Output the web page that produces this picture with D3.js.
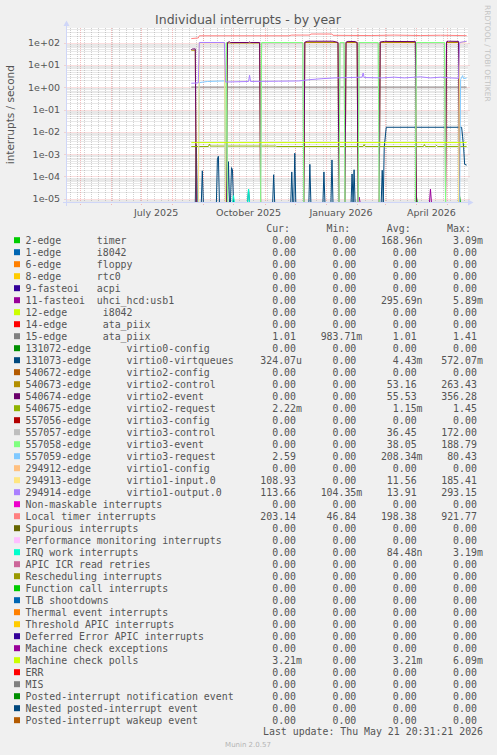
<!DOCTYPE html>
<html><head><meta charset="utf-8">
<script src="https://cdn.jsdelivr.net/npm/d3@7"></script>
<style>
html,body{margin:0;padding:0;background:#F0F0F0;}
svg{display:block;}
</style></head><body>
<svg id="chart" width="497" height="755"></svg>
<script>
// ---------------- DATA ----------------
const chartTitle = "Individual interrupts - by year";
const yAxisLabel = "interrupts / second";
const lastUpdate = "Last update: Thu May 21 20:31:21 2026";
const endTimeStr = "2026-05-21 20:31:21";

const yTickValues = [1e2, 1e1, 1e0, 1e-1, 1e-2, 1e-3, 1e-4, 1e-5];
const yTickLabels = ["1e+02","1e+01","1e+00","1e-01","1e-02","1e-03","1e-04","1e-05"];
const xTickDates = ["2025-07-16","2025-10-16","2026-01-16","2026-04-16"];
const xTickLabels = ["July 2025","October 2025","January 2026","April 2026"];

const legendNames = [
 "2-edge      timer","1-edge      i8042","6-edge      floppy","8-edge      rtc0",
 "9-fasteoi   acpi","11-fasteoi  uhci_hcd:usb1","12-edge      i8042","14-edge      ata_piix",
 "15-edge      ata_piix","131072-edge      virtio0-config","131073-edge      virtio0-virtqueues",
 "540672-edge      virtio2-config","540673-edge      virtio2-control","540674-edge      virtio2-event",
 "540675-edge      virtio2-request","557056-edge      virtio3-config","557057-edge      virtio3-control",
 "557058-edge      virtio3-event","557059-edge      virtio3-request","294912-edge      virtio1-config",
 "294913-edge      virtio1-input.0","294914-edge      virtio1-output.0","Non-maskable interrupts",
 "Local timer interrupts","Spurious interrupts","Performance monitoring interrupts","IRQ work interrupts",
 "APIC ICR read retries","Rescheduling interrupts","Function call interrupts","TLB shootdowns",
 "Thermal event interrupts","Threshold APIC interrupts","Deferred Error APIC interrupts",
 "Machine check exceptions","Machine check polls","ERR","MIS","Posted-interrupt notification event",
 "Nested posted-interrupt event","Posted-interrupt wakeup event"
];
const legendColors = [
 "#00CC00","#0066B3","#FF8000","#FFCC00","#330099","#990099","#CCFF00","#FF0000","#808080",
 "#008F00","#00487D","#B35A00","#B38F00","#6B006B","#8FB300","#B30000","#BEBEBE","#80FF80",
 "#80C9FF","#FFC080","#FFE680","#AA80FF","#EE00CC","#FF8080","#666600","#FFBFFF","#00FFCC",
 "#CC6699","#999900","#00CC00","#0066B3","#FF8000","#FFCC00","#330099","#990099","#CCFF00",
 "#FF0000","#808080","#008F00","#00487D","#B35A00"
];
const curValues = ["0.00","0.00","0.00","0.00","0.00","0.00","0.00","0.00","1.01","0.00","324.07u",
 "0.00","0.00","0.00","2.22m","0.00","0.00","0.00","2.59","0.00","108.93","113.66","0.00","203.14",
 "0.00","0.00","0.00","0.00","0.00","0.00","0.00","0.00","0.00","0.00","0.00","3.21m","0.00","0.00",
 "0.00","0.00","0.00"];
const minValues = ["0.00","0.00","0.00","0.00","0.00","0.00","0.00","0.00","983.71m","0.00","0.00",
 "0.00","0.00","0.00","0.00","0.00","0.00","0.00","0.00","0.00","0.00","104.35m","0.00","46.84",
 "0.00","0.00","0.00","0.00","0.00","0.00","0.00","0.00","0.00","0.00","0.00","0.00","0.00","0.00",
 "0.00","0.00","0.00"];
const avgValues = ["168.96n","0.00","0.00","0.00","0.00","295.69n","0.00","0.00","1.01","0.00","4.43m",
 "0.00","53.16","55.53","1.15m","0.00","36.45","38.05","208.34m","0.00","11.56","13.91","0.00","198.38",
 "0.00","0.00","84.48n","0.00","0.00","0.00","0.00","0.00","0.00","0.00","0.00","3.21m","0.00","0.00",
 "0.00","0.00","0.00"];
const maxValues = ["3.09m","0.00","0.00","0.00","0.00","5.89m","0.00","0.00","1.41","0.00","572.07m",
 "0.00","263.43","356.28","1.45","0.00","172.00","188.79","80.43","0.00","185.41","293.15","0.00","921.77",
 "0.00","0.00","3.19m","0.00","0.00","0.00","0.00","0.00","0.00","0.00","0.00","6.09m","0.00","0.00",
 "0.00","0.00","0.00"];

// series values: [date, interrupts/second]
const zeroSeries = [["2025-08-20",0],["2026-05-21",0]];
const timer2 = [["2025-08-20",0],["2026-03-31",0],["2026-04-01",1.3e-5],["2026-04-02",0],
 ["2026-05-13",0],["2026-05-14",1.3e-5],["2026-05-15",0],["2026-05-21",0]];
const usb11 = [["2025-08-20",0],["2026-02-02",0],["2026-02-03",1.2e-5],["2026-02-04",0],
 ["2026-04-14",0],["2026-04-15",2.7e-5],["2026-04-16",0],["2026-05-21",0]];
const ataPiix15 = [["2025-08-20",1.01],["2026-05-21",1.01]];
const virtio0Queues = [["2025-08-20",0],["2025-08-24",0],["2025-08-25",2.6e-3],["2025-08-26",0],
 ["2025-08-30",0],["2025-08-31",1.8e-4],["2025-09-01",0],["2025-09-14",0],["2025-09-15",6e-4],
 ["2025-09-16",8e-4],["2025-09-17",0],["2025-09-25",0],["2025-09-26",4.6e-4],["2025-09-27",0],
 ["2025-09-28",0],["2025-09-29",2.5e-4],["2025-09-30",2e-4],["2025-10-01",0],["2025-10-15",0],
 ["2025-10-16",2.7e-5],["2025-10-17",0],["2025-11-09",0],["2025-11-10",1.2e-4],["2025-11-11",0],
 ["2025-11-27",0],["2025-11-28",1.6e-4],["2025-11-29",0],["2025-11-30",0],["2025-12-01",1.1e-3],
 ["2025-12-02",0],["2025-12-15",0],["2025-12-16",3.5e-4],["2025-12-17",0],["2025-12-29",0],
 ["2025-12-30",1.6e-4],["2025-12-31",0],["2026-01-06",0],["2026-01-07",5.5e-4],["2026-01-08",0],
 ["2026-01-26",0],["2026-01-27",1.3e-4],["2026-01-28",0],["2026-01-29",2e-4],["2026-01-30",0],
 ["2026-02-25",0],["2026-02-26",1.9e-4],["2026-02-27",0],["2026-02-28",2e-3],["2026-03-02",1.6e-2],
 ["2026-05-16",1.6e-2],["2026-05-17",6e-3],["2026-05-18",2e-3],["2026-05-19",3.5e-4],
 ["2026-05-21",3.24e-4]];
const virtio2Control = [["2025-08-20",45],["2025-08-24",45],["2025-08-25",0],["2025-09-24",0],
 ["2025-09-25",95],["2025-10-27",95],["2025-10-28",0],["2025-12-10",0],["2025-12-11",100],
 ["2026-01-13",100],["2026-01-14",0],["2026-01-20",0],["2026-01-21",100],["2026-02-01",100],
 ["2026-02-02",0],["2026-02-23",0],["2026-02-24",100],["2026-03-31",100],["2026-04-01",0],
 ["2026-04-30",0],["2026-05-01",100],["2026-05-13",100],["2026-05-14",0],["2026-05-21",0]];
const virtio2Event = [["2025-08-20",48],["2025-08-21",51],["2025-08-24",52],["2025-08-25",0],
 ["2025-09-24",0],["2025-09-25",100],["2025-09-27",108],["2025-09-28",100],["2025-10-16",100],
 ["2025-10-17",106],["2025-10-18",100],["2025-10-27",100],["2025-10-28",0],["2025-12-10",0],
 ["2025-12-11",104],["2025-12-14",114],["2026-01-08",114],["2026-01-12",104],["2026-01-13",100],
 ["2026-01-14",0],["2026-01-20",0],["2026-01-21",104],["2026-01-23",112],["2026-01-30",110],
 ["2026-02-01",100],["2026-02-02",0],["2026-02-23",0],["2026-02-24",106],["2026-02-28",112],
 ["2026-03-31",110],["2026-04-01",0],["2026-04-30",0],["2026-05-01",108],["2026-05-03",114],
 ["2026-05-13",112],["2026-05-14",0],["2026-05-21",0]];
const virtio2Request = [["2025-08-20",2.2e-3],["2025-09-06",2.2e-3],["2025-09-07",2.8e-3],
 ["2025-09-08",2.3e-3],["2025-11-12",2.3e-3],["2025-11-13",2.2e-3],["2026-02-07",2.2e-3],
 ["2026-02-08",2.7e-3],["2026-02-09",2.2e-3],["2026-04-08",2.2e-3],["2026-04-09",2.7e-3],
 ["2026-04-10",2.2e-3],["2026-04-20",2.2e-3],["2026-04-21",2.5e-3],["2026-04-22",2.2e-3],
 ["2026-05-21",2.22e-3]];
const virtio3Control = [["2025-08-20",0],["2025-09-23",0],["2025-09-24",95],["2025-09-25",0],
 ["2025-10-28",0],["2025-10-29",95],["2025-12-09",95],["2025-12-10",0],["2026-01-14",0],
 ["2026-01-15",95],["2026-01-19",95],["2026-01-20",0],["2026-02-02",0],["2026-02-03",95],
 ["2026-02-22",95],["2026-02-23",0],["2026-03-31",0],["2026-04-01",95],["2026-04-29",95],
 ["2026-04-30",0],["2026-05-21",0]];
const virtio3Event = [["2025-08-20",0],["2025-09-23",0],["2025-09-24",100],["2025-09-25",0],
 ["2025-10-28",0],["2025-10-29",100],["2025-12-09",100],["2025-12-10",0],["2026-01-14",0],
 ["2026-01-15",100],["2026-01-19",100],["2026-01-20",0],["2026-02-02",0],["2026-02-03",100],
 ["2026-02-22",100],["2026-02-23",0],["2026-03-31",0],["2026-04-01",100],["2026-04-29",100],
 ["2026-04-30",0],["2026-05-21",0]];
const virtio3Request = [["2025-08-20",0],["2025-08-27",0],["2025-08-28",1.6],["2025-09-05",1.8],
 ["2025-09-22",1.9],["2025-09-23",0],["2026-05-14",0],["2026-05-15",2.2],["2026-05-17",3.3],
 ["2026-05-18",2.4],["2026-05-21",2.59]];
const virtio1Input = [["2025-08-20",0],["2025-08-27",0],["2025-08-28",98],["2025-09-22",98],
 ["2025-09-23",0],["2026-05-13",0],["2026-05-14",100],["2026-05-21",109]];
const virtio1Output = [["2025-08-20",1.5],["2025-08-27",1.55],["2025-08-28",100],["2025-09-22",100],
 ["2025-09-23",1.7],["2025-10-16",1.8],["2025-10-17",3.4],["2025-10-18",1.8],["2025-11-15",1.85],
 ["2025-12-05",1.9],["2025-12-15",2.15],["2025-12-28",2.4],["2026-01-10",2.6],["2026-01-25",2.7],
 ["2026-02-06",2.8],["2026-02-07",4.3],["2026-02-08",2.7],["2026-02-25",2.6],["2026-03-10",2.8],
 ["2026-03-20",2.6],["2026-04-05",2.9],["2026-04-15",2.6],["2026-04-25",2.8],["2026-05-05",2.6],
 ["2026-05-13",2.5],["2026-05-14",100],["2026-05-21",114]];
const localTimer = [["2025-08-20",150],["2025-08-27",160],["2025-08-28",200],["2025-11-25",200],
 ["2025-11-28",215],["2025-12-16",215],["2025-12-17",240],["2026-01-07",240],["2026-01-08",210],
 ["2026-02-15",205],["2026-03-10",215],["2026-04-05",205],["2026-04-25",212],["2026-05-21",203]];
const irqWork = [["2025-08-20",0],["2025-09-30",0],["2025-10-01",1.4e-5],["2025-10-02",0],
 ["2025-10-15",0],["2025-10-16",2.7e-5],["2025-10-17",0],["2026-05-21",0]];
const machineCheckPolls = [["2025-08-20",3.3e-3],["2026-05-21",3.3e-3]];

const seriesData = [timer2, zeroSeries, zeroSeries, zeroSeries, zeroSeries, usb11, zeroSeries,
 zeroSeries, ataPiix15, zeroSeries, virtio0Queues, zeroSeries, virtio2Control, virtio2Event,
 virtio2Request, zeroSeries, virtio3Control, virtio3Event, virtio3Request, zeroSeries, virtio1Input,
 virtio1Output, zeroSeries, localTimer, zeroSeries, zeroSeries, irqWork, zeroSeries, zeroSeries,
 zeroSeries, zeroSeries, zeroSeries, zeroSeries, zeroSeries, zeroSeries, machineCheckPolls,
 zeroSeries, zeroSeries, zeroSeries, zeroSeries, zeroSeries];

// ---------------- DRAW ----------------
const svg = d3.select("#chart");
const W = 497, H = 755;
const plot = {left: 66.5, right: 468, top: 28, bottom: 202.5};
svg.append("rect").attr("width", W).attr("height", H).attr("fill", "#F0F0F0");
svg.append("rect").attr("x", plot.left).attr("y", plot.top)
  .attr("width", plot.right - plot.left).attr("height", plot.bottom - plot.top).attr("fill", "#FFFFFF");

const parseDay = d3.timeParse("%Y-%m-%d");
const endTime = d3.timeParse("%Y-%m-%d %H:%M:%S")(endTimeStr);
const startTime = d3.timeDay.offset(endTime, -400);
const x = d3.scaleTime().domain([startTime, endTime]).range([65.5, 467.5]);
const yMin = Math.pow(10, -5.165), yMax = Math.pow(10, 2.65);
const y = d3.scaleLog().domain([yMin, yMax]).range([plot.bottom, plot.top]).clamp(true);

const minorColor = "rgba(140,140,140,0.4)";
const majorColor = "rgba(235,110,110,0.45)";
const grid = svg.append("g");
// minor horizontal
const minorVals = [];
for (let k = -6; k <= 2; k++) for (let m = 2; m <= 9; m++) {
  const v = m * Math.pow(10, k);
  if (v >= yMin && v <= yMax) minorVals.push(v);
}
grid.selectAll(".hmin").data(minorVals).enter().append("line")
  .attr("x1", plot.left).attr("x2", plot.right)
  .attr("y1", d => Math.round(y(d)) + 0.5).attr("y2", d => Math.round(y(d)) + 0.5)
  .attr("stroke", minorColor).attr("stroke-dasharray", "1,1");
// minor vertical (weekly)
const weeks = d3.timeMonday.range(startTime, endTime);
grid.selectAll(".vmin").data(weeks).enter().append("line")
  .attr("x1", d => Math.round(x(d)) + 0.5).attr("x2", d => Math.round(x(d)) + 0.5)
  .attr("y1", plot.top).attr("y2", plot.bottom)
  .attr("stroke", minorColor).attr("stroke-dasharray", "1,1");
// major horizontal
grid.selectAll(".hmaj").data(yTickValues).enter().append("line")
  .attr("x1", plot.left - 2).attr("x2", plot.right + 2)
  .attr("y1", d => Math.round(y(d)) + 0.5).attr("y2", d => Math.round(y(d)) + 0.5)
  .attr("stroke", majorColor).attr("stroke-dasharray", "1,1");
// major vertical (monthly)
const months = d3.timeMonth.range(startTime, endTime);
grid.selectAll(".vmaj").data(months).enter().append("line")
  .attr("x1", d => Math.round(x(d)) + 0.5).attr("x2", d => Math.round(x(d)) + 0.5)
  .attr("y1", plot.top).attr("y2", plot.bottom + 3)
  .attr("stroke", majorColor).attr("stroke-dasharray", "1,1");

// series lines
const line = d3.line()
  .x(d => x(parseDay(d[0])))
  .y(d => y(Math.max(d[1], yMin)));
const lines = svg.append("g");
seriesData.forEach((s, i) => {
  lines.append("path").attr("d", line(s)).attr("fill", "none")
    .attr("stroke", legendColors[i]).attr("stroke-width", 1);
});

// axes
const axisColor = "#CFD6F8";
svg.append("line").attr("x1", 63).attr("x2", 469).attr("y1", plot.bottom).attr("y2", plot.bottom)
  .attr("stroke", axisColor);
svg.append("path").attr("d", `M468,${plot.bottom-3} L473.5,${plot.bottom} L468,${plot.bottom+3} Z`).attr("fill", axisColor);
svg.append("line").attr("x1", plot.left).attr("x2", plot.left).attr("y1", 206).attr("y2", 25)
  .attr("stroke", axisColor);
svg.append("path").attr("d", `M${plot.left-3},26 L${plot.left},20.5 L${plot.left+3},26 Z`).attr("fill", axisColor);

// tick labels
const fontColor = "#555555";
svg.append("g").selectAll("text").data(yTickValues).enter().append("text")
  .attr("x", 60).attr("y", d => y(d) + 3.4).attr("text-anchor", "end")
  .attr("font-family", "DejaVu Sans").attr("font-size", "9.5px").attr("fill", fontColor)
  .text((d, i) => yTickLabels[i]);
svg.append("g").selectAll("text").data(xTickDates).enter().append("text")
  .attr("x", d => x(parseDay(d))).attr("y", 216).attr("text-anchor", "middle")
  .attr("font-family", "DejaVu Sans").attr("font-size", "9.5px").attr("fill", fontColor)
  .text((d, i) => xTickLabels[i]);

// title & labels
svg.append("text").attr("x", 248).attr("y", 24).attr("text-anchor", "middle")
  .attr("font-family", "DejaVu Sans").attr("font-size", "12.5px").attr("fill", fontColor).text(chartTitle);
svg.append("text").attr("transform", "translate(13.7,114.7) rotate(-90)").attr("text-anchor", "middle")
  .attr("font-family", "DejaVu Sans").attr("font-size", "10.5px").attr("fill", fontColor).text(yAxisLabel);
svg.append("text").attr("transform", "translate(485,5) rotate(90)").attr("text-anchor", "start")
  .attr("font-family", "DejaVu Sans").attr("font-size", "7.5px").attr("fill", "#C4C4C4")
  .text("RRDTOOL / TOBI OETIKER");

// legend
const mono = "DejaVu Sans Mono", monoSize = "9.9px";
const nb = s => s.replace(/ /g, "\u00A0");
const colEnds = [296, 356.3, 416.6, 476.9];
const headers = ["Cur:", "Min:", "Avg:", "Max:"];
const legend = svg.append("g").attr("font-family", mono).attr("font-size", monoSize).attr("fill", fontColor);
headers.forEach((h, j) => {
  legend.append("text").attr("x", colEnds[j] - 6).attr("y", 231.5).attr("text-anchor", "end").text(h);
});
const cols = [curValues, minValues, avgValues, maxValues];
legendNames.forEach((name, i) => {
  const by = 243.5 + 12 * i;
  legend.append("rect").attr("x", 14).attr("y", by - 6.3).attr("width", 6).attr("height", 6)
    .attr("fill", legendColors[i]);
  legend.append("text").attr("x", 25.5).attr("y", by).text(nb(name));
  cols.forEach((col, j) => {
    const m = col[i].match(/^([-0-9.]+)([a-zA-Z]?)$/);
    legend.append("text").attr("x", colEnds[j]).attr("y", by).attr("text-anchor", "end").text(m[1]);
    if (m[2]) legend.append("text").attr("x", colEnds[j]).attr("y", by).text(m[2]);
  });
});
legend.append("text").attr("x", 483).attr("y", 735.3).attr("text-anchor", "end").text(nb(lastUpdate));
svg.append("text").attr("x", 248).attr("y", 746.7).attr("text-anchor", "middle")
  .attr("font-family", "DejaVu Sans").attr("font-size", "7px").attr("fill", "#B4B4B4").text("Munin 2.0.57");
</script>
</body></html>
